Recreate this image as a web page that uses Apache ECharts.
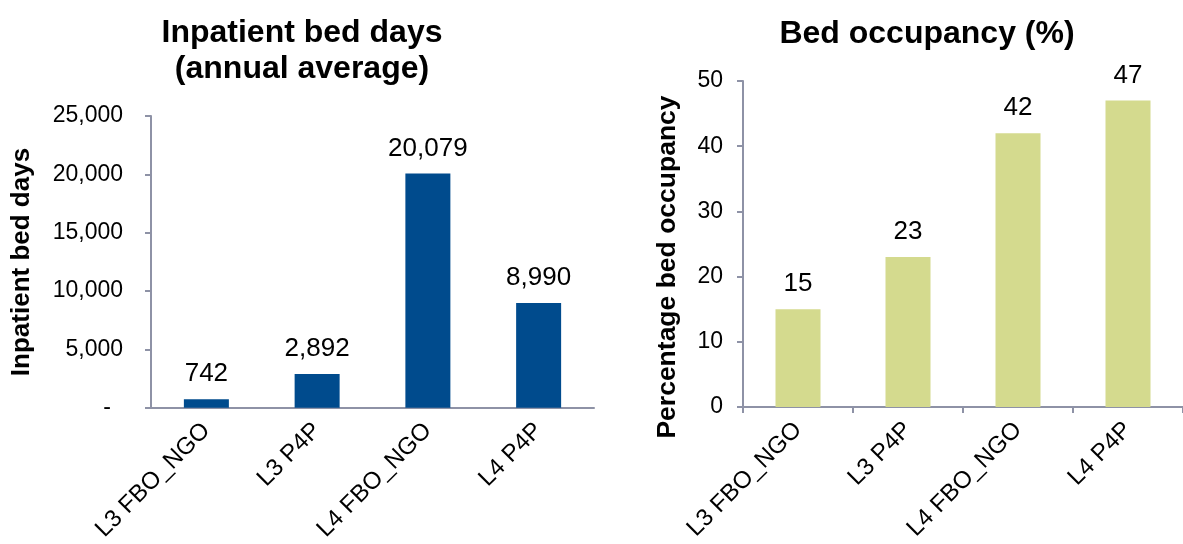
<!DOCTYPE html>
<html>
<head>
<meta charset="utf-8">
<script src="https://cdn.jsdelivr.net/npm/echarts@6/dist/echarts.min.js"></script>
<style>
  html, body { margin: 0; padding: 0; background: #ffffff; }
  #chart { width: 1183px; height: 544px; }
</style>
</head>
<body>
<div id="chart"></div>
<script>
// Facility groups shown on both panels
const categories = ['L3 FBO_NGO', 'L3 P4P', 'L4 FBO_NGO', 'L4 P4P'];
// Inpatient bed days, annual average
const bedDays = [742, 2892, 20079, 8990];
// Bed occupancy, percent
const occupancy = [15, 23, 42, 47];

const FONT = '"Liberation Sans", Arial, sans-serif';
const AXIS_COLOR = '#8e92a6';
const fmt = v => v.toLocaleString('en-US');

const chart = echarts.init(document.getElementById('chart'), null, { renderer: 'canvas' });

const axisLine = { show: true, lineStyle: { color: AXIS_COLOR, width: 2 } };
const titleStyle = { fontFamily: FONT, fontWeight: 'bold', fontSize: 32, lineHeight: 36, color: '#000' };
const catLabel = { rotate: 45, margin: 19, fontFamily: FONT, fontSize: 24, color: '#000' };

chart.setOption({
  backgroundColor: '#ffffff',
  animation: false,
  title: [
    { text: 'Inpatient bed days\n(annual average)', left: 297, top: 10, textAlign: 'center', textStyle: titleStyle },
    { text: 'Bed occupancy (%)', left: 922, top: 11, textAlign: 'center', textStyle: titleStyle }
  ],
  grid: [
    { left: 151, top: 116, width: 443, bottom: 136 },
    { left: 743, top: 81, width: 448, bottom: 137 }
  ],
  xAxis: [
    {
      type: 'category', gridIndex: 0, data: categories,
      axisLine: axisLine,
      axisTick: { show: false },
      axisLabel: catLabel
    },
    {
      type: 'category', gridIndex: 1, data: categories,
      axisLine: axisLine,
      axisTick: { show: true, length: 6, lineStyle: { color: AXIS_COLOR, width: 2 } },
      axisLabel: catLabel
    }
  ],
  yAxis: [
    {
      type: 'value', gridIndex: 0, min: 0, max: 25000, interval: 5000,
      axisLine: axisLine,
      axisTick: { show: true, length: 6, lineStyle: { color: AXIS_COLOR, width: 2 } },
      splitLine: { show: false },
      axisLabel: {
        margin: 28, fontFamily: FONT, fontSize: 23, color: '#000',
        formatter: v => (v === 0 ? '{dash|-}' : fmt(v)),
        rich: { dash: { fontFamily: FONT, fontSize: 23, color: '#000', padding: [0, 12, 0, 0] } }
      }
    },
    {
      type: 'value', gridIndex: 1, min: 0, max: 50, interval: 10,
      axisLine: axisLine,
      axisTick: { show: true, length: 6, lineStyle: { color: AXIS_COLOR, width: 2 } },
      splitLine: { show: false },
      axisLabel: { margin: 20, fontFamily: FONT, fontSize: 23, color: '#000' }
    }
  ],
  series: [
    {
      type: 'bar', xAxisIndex: 0, yAxisIndex: 0, data: bedDays,
      barWidth: 45,
      itemStyle: { color: '#004b8d' },
      label: {
        show: true, position: 'top', distance: 12,
        fontFamily: FONT, fontSize: 26, color: '#000',
        formatter: p => fmt(p.value)
      }
    },
    {
      type: 'bar', xAxisIndex: 1, yAxisIndex: 1, data: occupancy,
      barWidth: 45,
      itemStyle: { color: '#d4da8e' },
      label: {
        show: true, position: 'top', distance: 12,
        fontFamily: FONT, fontSize: 26, color: '#000'
      }
    }
  ],
  graphic: [
    {
      type: 'text', x: 22, y: 262, rotation: Math.PI / 2,
      style: { text: 'Inpatient bed days', font: 'bold 26px ' + FONT, fill: '#000', align: 'center', verticalAlign: 'middle' }
    },
    {
      type: 'text', x: 668, y: 267, rotation: Math.PI / 2,
      style: { text: 'Percentage bed occupancy', font: 'bold 26.5px ' + FONT, fill: '#000', align: 'center', verticalAlign: 'middle' }
    }
  ]
});
</script>
</body>
</html>
